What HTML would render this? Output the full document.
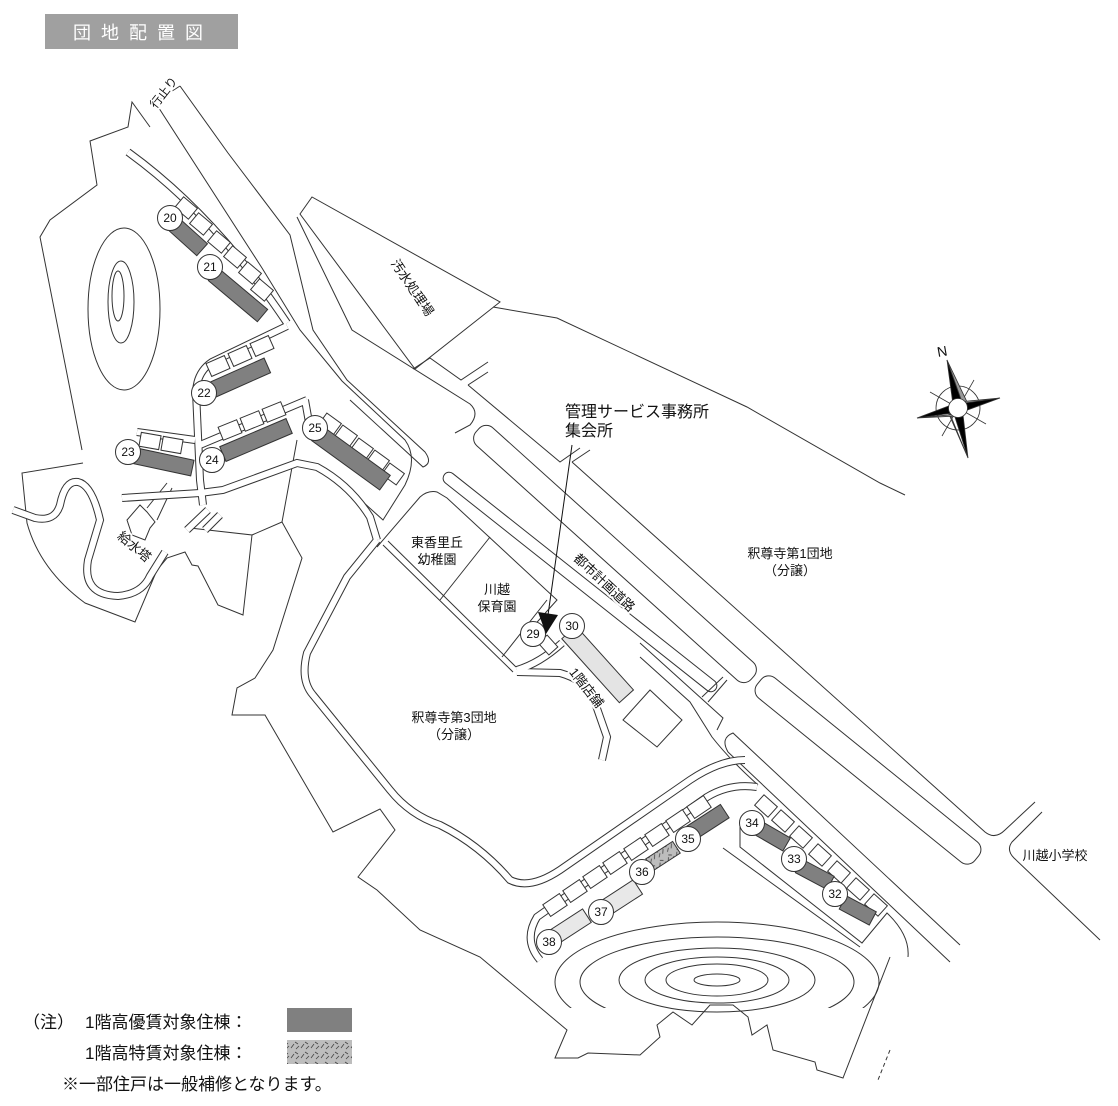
<!DOCTYPE html>
<html><head><meta charset="utf-8"><style>
html,body{margin:0;padding:0;background:#fff;}
svg{display:block;}
text{font-family:"Liberation Sans","Noto Sans CJK JP",sans-serif;fill:#111;}
.halo{stroke:#fff;stroke-width:4px;paint-order:stroke;stroke-linejoin:round;}
</style></head><body>
<svg width="1118" height="1106" viewBox="0 0 1118 1106" xmlns="http://www.w3.org/2000/svg">
<defs>
<pattern id="hatch" width="10" height="10" patternUnits="userSpaceOnUse">
<rect width="10" height="10" fill="#bdbdbd"/>
<path d="M1,8 L4,4 M6,9 L9,6 M5,2 L8,4" stroke="#444" stroke-width="0.8"/>
</pattern>
<clipPath id="ell"><rect x="0" y="0" width="1118" height="1008"/></clipPath>
</defs>
<rect x="45" y="14" width="193" height="35" fill="#a0a0a0"/>
<text x="143" y="39" font-size="18" style="fill:#fff" text-anchor="middle" letter-spacing="10">団地配置図</text>

<g fill="none" stroke="#333" stroke-width="1">
<path d="M150,127 L132,102 L128,127 L90,141 L97,185 L50,220 L40,237 L82,450"/>
<path d="M83,463 L22,473 L27,523 Q40,570 85,603 L135,622 L157,570 L167,558 L185,552 L192,565 L198,566 L218,605 L243,615 L252,535 L190,528"/>
<path d="M252,535 L282,522 L297,440"/>
<path d="M282,522 L302,558 L273,650 L255,678 L237,688 L232,715 L265,715 L333,832 L380,809 L395,830 L358,877 L377,890 L420,930 L480,957 L567,1030 L555,1058 L578,1058 L588,1053 L640,1055 L660,1037 L657,1025 L673,1012 L692,1025 L710,1005 L733,1005 L748,1017 L752,1035 L767,1025 L773,1050 L815,1062 L817,1070 L843,1078 L890,957"/>
<path d="M890,1050 L878,1080" stroke-dasharray="4,3"/>
<ellipse cx="124" cy="309" rx="36" ry="81"/>
<ellipse cx="121" cy="302" rx="13" ry="41"/>
<ellipse cx="118" cy="296" rx="6" ry="25"/>
<path d="M155,102 L262,268 L300,330 L342,381 L405,440 Q418,458 405,485 L383,520 L363,502"/>
<path d="M180,86 L228,153 L290,235 L313,330 L347,380 L425,452 Q433,463 423,467 L350,400"/>
<path d="M155,102 L180,86"/>
<path d="M297,217 L352,330 L470,404 Q480,413 470,425 L455,433"/>
<path d="M300,214 L312,197 L500,302 L415,369 Z"/>
<path d="M413,369 L430,358 L461,380 L488,362 M468,385 L488,372 M468,385 L560,462 L580,448 M572,462 L590,450"/>
<path d="M572,462 L985,832 Q995,840 1005,830 L1035,802"/>
<path d="M1042,812 L1012,842 Q1006,850 1014,858 L1100,940"/>
<path d="M493,307 L557,318 L747,407 L880,483 L905,495"/>
<rect x="-185" y="-12" width="370" height="24" rx="10" transform="translate(615,554) rotate(42)"/>
<rect x="-173" y="-6" width="346" height="12" rx="6" transform="translate(580,582) rotate(38.4)"/>
<rect x="-140" y="-13" width="280" height="26" rx="10" transform="translate(868,770) rotate(39)"/>
<path d="M728,752 Q720,738 733,733 L960,945 M728,752 L950,962"/>
<path d="M702,697 L723,677 M708,702 L727,680"/>
<path d="M640,643 L723,718 L717,730 M640,657 L690,702 L712,737 Q730,760 758,785"/>
<path d="M377,547 L420,497 Q428,490 437,492 L447,498 L557,600 L530,630"/>
<path d="M490,537 L440,600 M547,600 L502,657"/>
<path d="M623,720 L650,690 L682,720 L657,747 Z"/>
<path d="M740,820 L740,847 L862,943 L887,913 Q910,935 908,957 M723,848 L860,947"/>
<g clip-path="url(#ell)">
<ellipse cx="717" cy="982" rx="162" ry="60"/>
<ellipse cx="717" cy="982" rx="137" ry="45"/>
</g>
<ellipse cx="717" cy="980" rx="98" ry="32"/>
<ellipse cx="717" cy="980" rx="72" ry="23"/>
<ellipse cx="717" cy="980" rx="51" ry="16"/>
<ellipse cx="717" cy="980" rx="23" ry="6"/>
<path d="M127,520 L140,505 L147,512 L155,522 L150,528 L145,540 L132,535 Z"/>
<path d="M147,508 L167,483 M172,488 L157,520"/>
<path d="M383,545 L513,672 M388,541 L516,667"/>
</g>

<g fill="none" stroke-linecap="butt">
<g stroke="#333" stroke-width="8">
<path d="M13,510 L35,518 Q55,522 60,505 Q65,480 78,482 Q92,485 100,520 L88,560 Q82,595 118,596 Q142,594 150,576 L165,552"/>
<path d="M128,152 Q215,215 287,323"/>
<path d="M287,326 L212,362 Q197,372 196,392 L200,480 L203,505"/>
<path d="M137,432 L195,440 M200,445 L307,400 M305,400 L310,428"/>
<path d="M122,498 L200,493 L223,490 L297,463 L317,467 Q350,485 370,517 L377,540"/>
<path d="M377,540 L347,577 L307,653 Q300,680 313,695 L390,790 Q410,815 440,825 Q480,845 510,880 Q530,890 560,870 L690,780 Q720,760 745,760"/>
<path d="M517,672 L560,673 Q585,680 593,697 L607,737 L602,760"/>
<path d="M517,670 Q540,663 562,643"/>
<path d="M540,960 Q523,940 537,917 L707,797 Q730,783 757,787"/>
<path d="M187,530 L208,510 M205,530 L220,515"/>
</g>
<g stroke="#fff" stroke-width="6">
<path d="M13,510 L35,518 Q55,522 60,505 Q65,480 78,482 Q92,485 100,520 L88,560 Q82,595 118,596 Q142,594 150,576 L165,552"/>
<path d="M128,152 Q215,215 287,323"/>
<path d="M287,326 L212,362 Q197,372 196,392 L200,480 L203,505"/>
<path d="M137,432 L195,440 M200,445 L307,400 M305,400 L310,428"/>
<path d="M122,498 L200,493 L223,490 L297,463 L317,467 Q350,485 370,517 L377,540"/>
<path d="M377,540 L347,577 L307,653 Q300,680 313,695 L390,790 Q410,815 440,825 Q480,845 510,880 Q530,890 560,870 L690,780 Q720,760 745,760"/>
<path d="M517,672 L560,673 Q585,680 593,697 L607,737 L602,760"/>
<path d="M517,670 Q540,663 562,643"/>
<path d="M540,960 Q523,940 537,917 L707,797 Q730,783 757,787"/>
<path d="M187,530 L208,510 M205,530 L220,515"/>
</g>
</g>

<g fill="#fff" stroke="#333" stroke-width="1">
<rect x="-9" y="-7" width="18" height="14" transform="translate(186,208) rotate(40)"/>
<rect x="-9" y="-7" width="18" height="14" transform="translate(201,224) rotate(40)"/>
<rect x="-9" y="-7" width="18" height="14" transform="translate(219,242) rotate(40)"/>
<rect x="-9" y="-7" width="18" height="14" transform="translate(235,257) rotate(40)"/>
<rect x="-9" y="-7" width="18" height="14" transform="translate(250,273) rotate(40)"/>
<rect x="-9" y="-7" width="18" height="14" transform="translate(262,290) rotate(40)"/>
<rect x="-10" y="-7" width="20" height="14" transform="translate(218,366) rotate(-24)"/>
<rect x="-10" y="-7" width="20" height="14" transform="translate(240,356) rotate(-24)"/>
<rect x="-10" y="-7" width="20" height="14" transform="translate(262,346) rotate(-24)"/>
<rect x="-10" y="-7" width="20" height="14" transform="translate(150,441) rotate(10)"/>
<rect x="-10" y="-7" width="20" height="14" transform="translate(172,445) rotate(10)"/>
<rect x="-10" y="-7" width="20" height="14" transform="translate(230,430) rotate(-22)"/>
<rect x="-10" y="-7" width="20" height="14" transform="translate(252,421) rotate(-22)"/>
<rect x="-10" y="-7" width="20" height="14" transform="translate(274,412) rotate(-22)"/>
<rect x="-9" y="-7" width="18" height="14" transform="translate(330,424) rotate(36)"/>
<rect x="-9" y="-7" width="18" height="14" transform="translate(346,436) rotate(36)"/>
<rect x="-9" y="-7" width="18" height="14" transform="translate(362,449) rotate(36)"/>
<rect x="-9" y="-7" width="18" height="14" transform="translate(378,461) rotate(36)"/>
<rect x="-9" y="-7" width="18" height="14" transform="translate(393,474) rotate(36)"/>
<rect x="-10" y="-7" width="20" height="14" transform="translate(555,905) rotate(-34)"/>
<rect x="-10" y="-7" width="20" height="14" transform="translate(575,891) rotate(-34)"/>
<rect x="-10" y="-7" width="20" height="14" transform="translate(595,877) rotate(-34)"/>
<rect x="-10" y="-7" width="20" height="14" transform="translate(615,863) rotate(-34)"/>
<rect x="-10" y="-7" width="20" height="14" transform="translate(636,849) rotate(-34)"/>
<rect x="-10" y="-7" width="20" height="14" transform="translate(657,835) rotate(-34)"/>
<rect x="-10" y="-7" width="20" height="14" transform="translate(678,821) rotate(-34)"/>
<rect x="-10" y="-7" width="20" height="14" transform="translate(699,807) rotate(-34)"/>
<rect x="-9" y="-7" width="18" height="14" transform="translate(766,806) rotate(42)"/>
<rect x="-9" y="-7" width="18" height="14" transform="translate(783,821) rotate(42)"/>
<rect x="-9" y="-7" width="18" height="14" transform="translate(801,837) rotate(42)"/>
<rect x="-9" y="-7" width="18" height="14" transform="translate(820,855) rotate(42)"/>
<rect x="-9" y="-7" width="18" height="14" transform="translate(839,872) rotate(42)"/>
<rect x="-9" y="-7" width="18" height="14" transform="translate(858,889) rotate(42)"/>
<rect x="-9" y="-7" width="18" height="14" transform="translate(876,905) rotate(42)"/>
</g>

<g stroke="#333" stroke-width="1">
<rect x="-19" y="-8" width="38" height="16" fill="#808080" transform="translate(188,237) rotate(42)"/>
<rect x="-32" y="-8" width="64" height="16" fill="#808080" transform="translate(238,295) rotate(40)"/>
<rect x="-31" y="-8" width="62" height="16" fill="#808080" transform="translate(239,378) rotate(-24)"/>
<rect x="-29" y="-8" width="58" height="16" fill="#808080" transform="translate(164,462) rotate(12)"/>
<rect x="-36" y="-8" width="72" height="16" fill="#808080" transform="translate(256,440) rotate(-23)"/>
<rect x="-42" y="-9" width="84" height="18" fill="#808080" transform="translate(351,458) rotate(36)"/>
<rect x="-20" y="-8" width="40" height="16" fill="#808080" transform="translate(708,822) rotate(-33)"/>
<rect x="-16" y="-7" width="32" height="14" fill="url(#hatch)" transform="translate(663,856) rotate(-33)"/>
<rect x="-21" y="-8" width="42" height="17" fill="#e8e8e8" transform="translate(620,898) rotate(-33)"/>
<rect x="-19" y="-8" width="38" height="16" fill="#e8e8e8" transform="translate(571,926) rotate(-33)"/>
<rect x="-16" y="-7" width="32" height="15" fill="#808080" transform="translate(773,836) rotate(30)"/>
<rect x="-18" y="-7" width="36" height="15" fill="#808080" transform="translate(815,874) rotate(28)"/>
<rect x="-17" y="-7" width="34" height="15" fill="#808080" transform="translate(858,910) rotate(28)"/>
<rect x="-43" y="-9" width="86" height="19" fill="#e4e4e4" transform="translate(598,664) rotate(48)"/>
<rect x="-8" y="-6" width="16" height="12" fill="#fff" transform="translate(548,645) rotate(48)"/>
</g>

<g font-size="12" text-anchor="middle">
<g fill="#fff" stroke="#333" stroke-width="1">
<circle cx="170" cy="218" r="12.5"/><circle cx="210" cy="267" r="12.5"/>
<circle cx="204" cy="393" r="12.5"/><circle cx="128" cy="452" r="12.5"/>
<circle cx="212" cy="460" r="12.5"/><circle cx="315" cy="428" r="12.5"/>
<circle cx="533" cy="634" r="12.5"/><circle cx="572" cy="626" r="12.5"/>
<circle cx="549" cy="942" r="12.5"/><circle cx="601" cy="912" r="12.5"/>
<circle cx="642" cy="872" r="12.5"/><circle cx="688" cy="839" r="12.5"/>
<circle cx="752" cy="823" r="12.5"/><circle cx="794" cy="859" r="12.5"/>
<circle cx="835" cy="894" r="12.5"/>
</g>
<text x="170" y="222">20</text><text x="210" y="271">21</text>
<text x="204" y="397">22</text><text x="128" y="456">23</text>
<text x="212" y="464">24</text><text x="315" y="432">25</text>
<text x="533" y="638">29</text><text x="572" y="630">30</text>
<text x="549" y="946">38</text><text x="601" y="916">37</text>
<text x="642" y="876">36</text><text x="688" y="843">35</text>
<text x="752" y="827">34</text><text x="794" y="863">33</text>
<text x="835" y="898">32</text>
</g>

<line x1="572" y1="445" x2="548" y2="615" stroke="#111" stroke-width="1"/>
<polygon points="538,612 558,615 546,634" fill="#111"/>

<g stroke="#333" stroke-width="0.8">
<circle cx="958" cy="408" r="22" fill="none"/>
<line x1="930" y1="392" x2="986" y2="424"/><line x1="942" y1="436" x2="974" y2="380"/>
<polygon points="947,360 962,402 954,412" fill="#000"/>
<polygon points="947,360 962,402 968,404" fill="#999"/>
<polygon points="968,458 954,414 962,406" fill="#000"/>
<polygon points="968,458 950,414 948,412" fill="#999"/>
<polygon points="917,418 954,404 960,412" fill="#000"/>
<polygon points="917,418 958,414 958,416" fill="#999"/>
<polygon points="1000,398 962,412 956,404" fill="#000"/>
<polygon points="1000,398 958,402 958,404" fill="#999"/>
<circle cx="958" cy="408" r="9.5" fill="#fff"/>
</g>
<text x="937" y="356" font-size="14" transform="rotate(-10 943 351)">N</text>

<g font-size="13">
<text class="halo" x="163" y="97" font-size="12" text-anchor="middle" transform="rotate(-52 163 92)">行止り</text>
<text class="halo" x="412" y="292" text-anchor="middle" transform="rotate(56 412 288)">汚水処理場</text>
<text x="565" y="417" font-size="16">管理サービス事務所</text>
<text x="565" y="436" font-size="16">集会所</text>
<text x="790" y="558" text-anchor="middle">釈尊寺第1団地</text>
<text x="790" y="575" text-anchor="middle">（分譲）</text>
<text class="halo" x="604" y="587" text-anchor="middle" transform="rotate(43 604 583)">都市計画道路</text>
<text x="437" y="547" text-anchor="middle">東香里丘</text>
<text x="437" y="564" text-anchor="middle">幼稚園</text>
<text x="497" y="594" text-anchor="middle">川越</text>
<text x="497" y="611" text-anchor="middle">保育園</text>
<text class="halo" x="586" y="692" text-anchor="middle" transform="rotate(52 586 688)">1階店舗</text>
<text x="454" y="722" text-anchor="middle">釈尊寺第3団地</text>
<text x="454" y="739" text-anchor="middle">（分譲）</text>
<text class="halo" x="134" y="551" text-anchor="middle" transform="rotate(40 134 547)">給水塔</text>
<text x="1055" y="860" text-anchor="middle">川越小学校</text>
</g>

<g font-size="17">
<text x="23" y="1028">（注）</text>
<text x="85" y="1028">1階高優賃対象住棟：</text>
<text x="85" y="1059">1階高特賃対象住棟：</text>
<text x="62" y="1090">※一部住戸は一般補修となります。</text>
</g>
<rect x="287" y="1008" width="65" height="24" fill="#808080"/>
<rect x="287" y="1040" width="65" height="24" fill="url(#hatch)"/>
</svg>
</body></html>
